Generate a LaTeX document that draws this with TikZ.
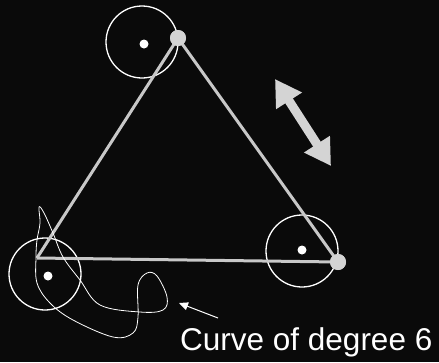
\documentclass[tikz,border=0pt]{standalone}
\usepackage{fontspec}
\setmainfont{Liberation Sans}
\usetikzlibrary{arrows.meta}
\definecolor{bgdark}{RGB}{10,10,10}
\definecolor{edgegray}{RGB}{200,200,200}
\definecolor{dotgray}{RGB}{212,212,212}
\begin{document}
\begin{tikzpicture}[x=1pt,y=-1pt,
    vertex/.style={circle, fill=dotgray, inner sep=0pt, minimum size=16pt},
    ring/.style={circle, draw=white, line width=1.3pt, inner sep=0pt, minimum size=72pt},
    centre/.style={circle, fill=white, inner sep=0pt, minimum size=9pt},
    side/.style={draw=edgegray, line width=3pt}]
                % Background
                \fill[bgdark] (0,0) rectangle (439,362);
                \useasboundingbox (0,0) rectangle (439,362);
                % Circles with their centres
                \node[ring] (ctop) at (142,42) {};
                \node[ring] (cright) at (302,251) {};
                \node[ring] (cleft) at (45,274) {};
                \node[centre] (dtop) at (144,44) {};
                \node[centre] (dright) at (302,250) {};
                \node[centre] (dleft) at (48,276) {};
                % Triangle
                \coordinate (left) at (37,258);
                \node[vertex] (top) at (178,38) {};
                \node[vertex] (right) at (338,262) {};
                \draw[side] (left) -- (top.center);
                \draw[side] (left) -- (right.center);
                \draw[side] (top.center) -- (right.center);
                \node[vertex] at (top) {};
                \node[vertex] at (right) {};
                % Double arrow
                \coordinate (arrA) at (275,79);
                \coordinate (arrB) at (331,166);
                \draw[dotgray, line width=9pt, {Triangle[length=26pt,width=29pt]}-{Triangle[length=26pt,width=29pt]}] (arrA) -- (arrB);
                % The curve
                \draw[white, line width=0.8pt] plot[smooth cycle, tension=0.6] coordinates {
                    (39,207) (44,213) (53,233) (63,257) (80,280) (100,305)
                    (140,312) (163,310) (167,297) (157,276) (147,273) (138,285)
                    (138,317) (133,333) (113,337) (73,320) (50,303) (37,283)
                    (36,257) (37,240) (40,223)};
                % Label
                \node[white, anchor=base west, inner sep=0pt, font=\fontsize{31.5}{36}\selectfont] (label) at (180,350) {Curve of degree 6};
                \coordinate (tail) at (218,318);
                \coordinate (tip) at (179,303);
                \draw[white, line width=1pt, -{Triangle[length=9pt,width=8pt]}] (tail) -- (tip);
            \end{tikzpicture}
\end{document}
